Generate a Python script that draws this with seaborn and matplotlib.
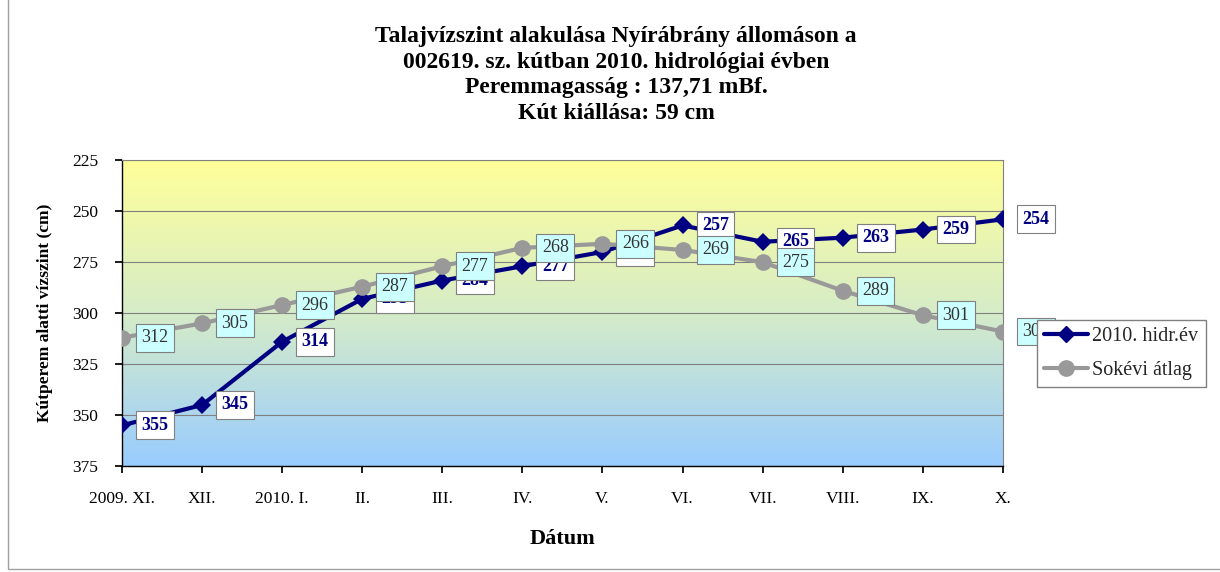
import matplotlib
matplotlib.use("Agg")
import matplotlib.pyplot as plt
import seaborn as sns
import numpy as np
import pandas as pd

months = ["2009. XI.", "XII.", "2010. I.", "II.", "III.", "IV.", "V.",
          "VI.", "VII.", "VIII.", "IX.", "X."]
hidr_2010 = [355, 345, 314, 293, 284, 277, 270, 257, 265, 263, 259, 254]
sokevi = [312, 305, 296, 287, 277, 268, 266, 269, 275, 289, 301, 309]
series_names = ["2010. hidr.év", "Sokévi átlag"]

sns.set_theme(style="white")
plt.rcParams['font.family'] = ['Liberation Serif', 'DejaVu Serif']

df = pd.DataFrame({
    "pos": list(range(len(months))) * 2,
    "value": hidr_2010 + sokevi,
    "series": [series_names[0]] * len(months) + [series_names[1]] * len(months),
})

fig = plt.figure(figsize=(12.2, 5.72), dpi=100)
ax = fig.add_axes([0.1, 0.185, 0.722, 0.535])

# gradient background, yellow at top to light blue at bottom
grad = np.linspace(0, 1, 256).reshape(-1, 1)
cmap = matplotlib.colors.LinearSegmentedColormap.from_list(
    "bg", ["#ffff99", "#d6ecc8", "#99ccff"])
ax.imshow(grad, aspect="auto", cmap=cmap, extent=[0, 11, 375, 225],
          zorder=0, interpolation="bicubic")

palette = {series_names[0]: "#000080", series_names[1]: "#999999"}
sns.lineplot(data=df, x="pos", y="value", hue="series", style="series",
             markers={series_names[0]: "D", series_names[1]: "o"},
             dashes=False, palette=palette, linewidth=3, ax=ax,
             markersize=9, markeredgewidth=0, zorder=3, legend=False)
for l in ax.lines:
    if l.get_marker() == "o":
        l.set_markersize(12)

ax.set_xlim(0, 11)
ax.set_ylim(375, 225)
ax.set_yticks(range(225, 376, 25))
ax.set_xticks(range(len(months)))
ax.set_xticklabels(months)
ax.yaxis.grid(True, color="#808080", linewidth=0.8, zorder=1)
ax.set_axisbelow(True)
ax.tick_params(axis="both", labelsize=12.5, length=5, direction="out",
               bottom=True, left=True, color="black", labelcolor="black")
ax.tick_params(axis="x", pad=13)
ax.tick_params(axis="y", pad=12)
for s in ["top", "right"]:
    ax.spines[s].set_color("#808080")
    ax.spines[s].set_linewidth(0.8)
for s in ["left", "bottom"]:
    ax.spines[s].set_color("black")
    ax.spines[s].set_linewidth(1)

# data labels
for i, v in enumerate(sokevi):
    ax.annotate(str(v), (i, v), xytext=(14, 0), textcoords="offset points",
                va="center", ha="left", fontsize=13, color="#333333", zorder=5,
                bbox=dict(boxstyle="square,pad=0.3", fc="#ccffff", ec="#808080", lw=0.8))
for i, v in enumerate(hidr_2010):
    ax.annotate(str(v), (i, v), xytext=(14, 0), textcoords="offset points",
                va="center", ha="left", fontsize=13, color="#000080",
                fontweight="bold", zorder=4,
                bbox=dict(boxstyle="square,pad=0.3", fc="white", ec="#808080", lw=0.8))

ax.set_xlabel("Dátum", fontsize=16, fontweight="bold", labelpad=16, color="black")
ax.set_ylabel("Kútperem alatti vízszint (cm)", fontsize=12.5, fontweight="bold",
              labelpad=14, color="black")

fig.text(0.505, 0.955,
         "Talajvízszint alakulása Nyírábrány állomáson a\n"
         "002619. sz. kútban 2010. hidrológiai évben\n"
         "Peremmagasság : 137,71 mBf.\n"
         "Kút kiállása: 59 cm",
         ha="center", va="top", fontsize=17, fontweight="bold",
         linespacing=1.3, color="black")

handles = [
    matplotlib.lines.Line2D([], [], color="#000080", lw=3, marker="D", markersize=8),
    matplotlib.lines.Line2D([], [], color="#999999", lw=3, marker="o", markersize=11),
]
fig.legend(handles, series_names, loc="upper left",
           bbox_to_anchor=(0.85, 0.44), borderaxespad=0, fontsize=14.5,
           frameon=True, fancybox=False, edgecolor="#808080", framealpha=1,
           handlelength=2.2, handletextpad=0.2, borderpad=0.35,
           labelspacing=0.7)

fig.patches.append(matplotlib.patches.Rectangle(
    (0.0066, 0.006), 1.0, 1.0, transform=fig.transFigure, fill=False,
    ec="#a0a0a0", lw=1))

fig.savefig("out.png", dpi=100)
